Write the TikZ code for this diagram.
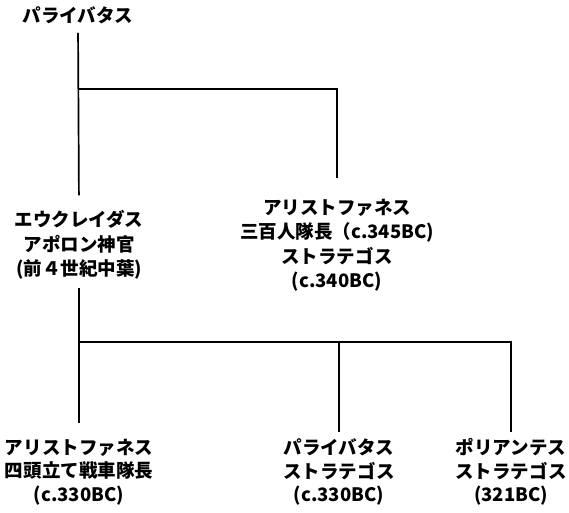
\documentclass[tikz,border=0pt]{standalone}
\usepackage{fontspec}
\setmainfont{Noto Sans CJK JP}
\begin{document}
\begin{tikzpicture}[x=1pt,y=-1pt,
  lbl/.style={inner sep=0pt, align=center, font=\fontsize{18.5}{24.5}\selectfont\bfseries},
  low/.style={lbl, font=\fontsize{18.5}{23.5}\selectfont\bfseries},
  ln/.style={line width=1.7pt}]
\useasboundingbox (0,0) rectangle (569,512);
\node[lbl] (p1) at (78,15) {パライバタス};
\node[lbl] (eu) at (79,245) {エウクレイダス\\アポロン神官\\(前４世紀中葉)};
\node[lbl] (ar1) at (337,245) {アリストファネス\\三百人隊長（c.345BC)\\ストラテゴス\\(c.340BC)};
\node[low] (ar2) at (79,472) {アリストファネス\\四頭立て戦車隊長\\(c.330BC)};
\node[low] (pa2) at (339,472) {パライバタス\\ストラテゴス\\(c.330BC)};
\node[low] (po) at (511,472) {ポリアンテス\\ストラテゴス\\(321BC)};
\coordinate (j1) at (78,89);
\coordinate (j2) at (79,342);
\draw[ln, shorten <=9pt, shorten >=15pt] (p1.south) -- (eu.north);
\draw[ln, shorten >=21pt] (j1) -| (ar1.north);
\draw[ln, shorten <=8pt, shorten >=16pt] (eu.south) -- (ar2.north);
\draw[ln, shorten >=6pt] (j2) -| (pa2.north);
\draw[ln, shorten >=6pt] (j2) -| (po.north);
\end{tikzpicture}
\end{document}
